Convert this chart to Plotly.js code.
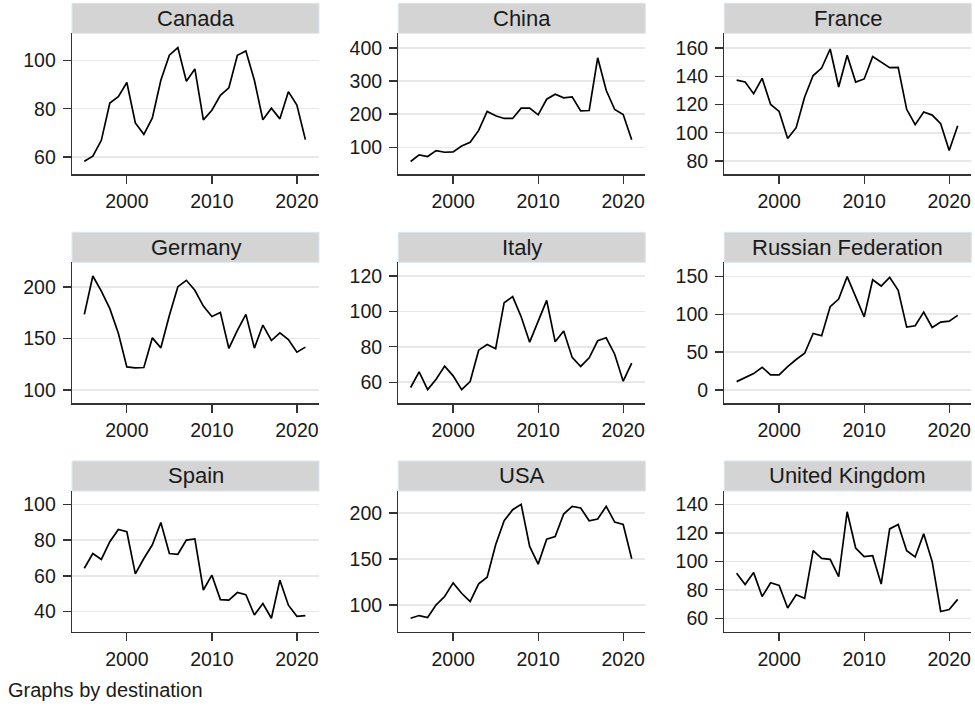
<!DOCTYPE html>
<html>
<head>
<meta charset="utf-8">
<script src="https://cdn.plot.ly/plotly-3.0.1.min.js"></script>
<style>html,body{margin:0;padding:0;background:#fff;}#chart{width:975px;height:707px;}</style>
</head>
<body>
<div id="chart"></div>
<script>
const years = [1995,1996,1997,1998,1999,2000,2001,2002,2003,2004,2005,2006,2007,2008,2009,2010,2011,2012,2013,2014,2015,2016,2017,2018,2019,2020,2021];
const countries = ["Canada","China","France","Germany","Italy","Russian Federation","Spain","USA","United Kingdom"];
const canada  = [58.2,60.3,66.9,82.4,85.0,90.9,74.1,69.4,76.2,91.8,102.2,105.4,91.4,96.5,75.4,79.4,85.6,88.7,102.2,104.0,91.8,75.4,80.2,75.8,87.1,81.5,67.2];
const china   = [57,77,72,90,85,86,104,115,151,208,195,187,187,218,218,198,245,260,249,252,210,211,370,272,214,199,123];
const france  = [137.3,135.9,127.7,138.5,120,115.1,96,103.6,125.3,140.5,145.8,159.3,132.4,154.8,135.9,138.1,153.9,150.1,146.1,146.3,116.6,105.7,114.7,112.5,106.4,87.5,105];
const germany = [173.4,210.7,196,179,155,122.4,121.4,121.8,150.6,140.9,172.4,200.3,206.5,196.8,181.5,171.4,175.3,140.3,157.8,173.4,140.6,163,148,155.5,149,136.7,141.6];
const italy   = [57,65.8,55.8,61.7,69.1,63.6,55.8,60.4,78.1,81.3,78.9,104.9,108.3,97,82.6,94.7,106.2,82.8,88.9,74,68.9,73.8,83.4,85.1,75.8,60.6,70.8];
const russia  = [11,16.8,21.6,30,19.9,19.9,30.9,40.2,48.5,74.6,71.5,109.9,120,149.6,121.8,96.5,145.5,137.2,148.7,131.5,83,84.7,102.8,82.5,89.6,90.9,98.4];
const spain   = [64.3,72.5,69.2,79.1,86,84.7,61.1,69.7,77.4,89.9,72.5,72.1,80,80.7,52.1,60.4,46.7,46.4,50.7,49.5,38.1,44.5,36.3,57.6,43.6,37.4,37.8];
const usa     = [85.5,88.4,86.2,100,109.1,124,112.7,103.6,122.9,130.2,165.5,191.6,203.6,209.5,163.6,144.4,171.6,174.5,198.9,207.3,205.5,191.6,193.5,207.3,190.2,187.6,150.2];
const uk      = [91.7,83.7,92.1,75.3,85,83.1,67.2,76.5,74,107.5,102.1,101.4,89.2,134.8,109.4,103.3,104,84.1,122.8,125.9,107.5,103.1,119.3,99.8,64.8,66.2,73.3];
const yTicks = [[60,80,100],[100,200,300,400],[80,100,120,140,160],[100,150,200],[60,80,100,120],[0,50,100,150],[40,60,80,100],[100,150,200],[60,80,100,120,140]];
const xTicks = [2000,2010,2020];
const footnote = "Graphs by destination";

const series = [canada,china,france,germany,italy,russia,spain,usa,uk];
const yRanges = [[52.8,111.3],[18.4,444],[70.6,170.4],[87,224],[48.1,127.7],[-17.6,168.5],[28.6,107.5],[70.5,224],[50.4,149.4]];

const W = 975, H = 707;
const colX = [72, 398.3, 724.3];
const colW = 247;
const rowTop = [33.3, 262.3, 491];
const plotH = 141;
const stripH = 30;

const fontFam = '"Liberation Sans", Arial, sans-serif';
const traces = [];
const layout = {
  width: W, height: H,
  margin: {l:0, r:0, t:0, b:0},
  paper_bgcolor: '#ffffff', plot_bgcolor: '#ffffff',
  showlegend: false,
  font: {family: fontFam, color: '#1a1a1a', size: 19},
  shapes: [], annotations: []
};

for (let i = 0; i < 9; i++) {
  const r = Math.floor(i / 3), c = i % 3;
  const sfx = i === 0 ? '' : String(i + 1);
  const x0 = colX[c] / W, x1 = (colX[c] + colW) / W;
  const y1 = 1 - rowTop[r] / H, y0 = 1 - (rowTop[r] + plotH) / H;
  traces.push({
    x: years, y: series[i], type: 'scatter', mode: 'lines',
    line: {color: '#000000', width: 1.7},
    xaxis: 'x' + sfx, yaxis: 'y' + sfx, hoverinfo: 'skip'
  });
  layout['xaxis' + sfx] = {
    domain: [x0, x1], anchor: 'y' + sfx, range: [1993.55, 2022.6],
    tickmode: 'array', tickvals: xTicks, ticktext: xTicks.map(String),
    showgrid: false, zeroline: false, showline: true, linecolor: '#333333', linewidth: 1.3,
    ticks: 'outside', ticklen: 8, tickwidth: 1.3, tickcolor: '#333333',
    tickfont: {family: fontFam, size: 19.5, color: '#1a1a1a'}, ticklabelstandoff: 1,
    fixedrange: true
  };
  layout['yaxis' + sfx] = {
    domain: [y0, y1], anchor: 'x' + sfx, range: yRanges[i],
    tickmode: 'array', tickvals: yTicks[i], ticktext: yTicks[i].map(String),
    showgrid: true, gridcolor: '#e8e8e8', gridwidth: 1.5,
    zeroline: false, showline: true, linecolor: '#333333', linewidth: 1.3,
    ticks: 'outside', ticklen: 8, tickwidth: 1.3, tickcolor: '#333333',
    tickfont: {family: fontFam, size: 19.5, color: '#1a1a1a'}, ticklabelstandoff: 3,
    fixedrange: true
  };
  const sTop = 1 - (rowTop[r] - stripH) / H;
  layout.shapes.push({
    type: 'rect', xref: 'paper', yref: 'paper',
    x0: x0, x1: x1, y0: y1, y1: sTop,
    fillcolor: '#d4d4d4', line: {color: '#dae7ec', width: 1}, layer: 'below'
  });
  layout.annotations.push({
    xref: 'paper', yref: 'paper', x: (x0 + x1) / 2, y: (y1 + sTop) / 2,
    xanchor: 'center', yanchor: 'middle', showarrow: false,
    text: countries[i], font: {family: fontFam, size: 22, color: '#1a1a1a'}
  });
}
layout.annotations.push({
  xref: 'paper', yref: 'paper', x: 6 / W, y: 1 - 690 / H,
  xanchor: 'left', yanchor: 'middle', showarrow: false,
  text: footnote, font: {family: fontFam, size: 20, color: '#1a1a1a'}
});

Plotly.newPlot('chart', traces, layout, {displayModeBar: false, staticPlot: true});
</script>
</body>
</html>
